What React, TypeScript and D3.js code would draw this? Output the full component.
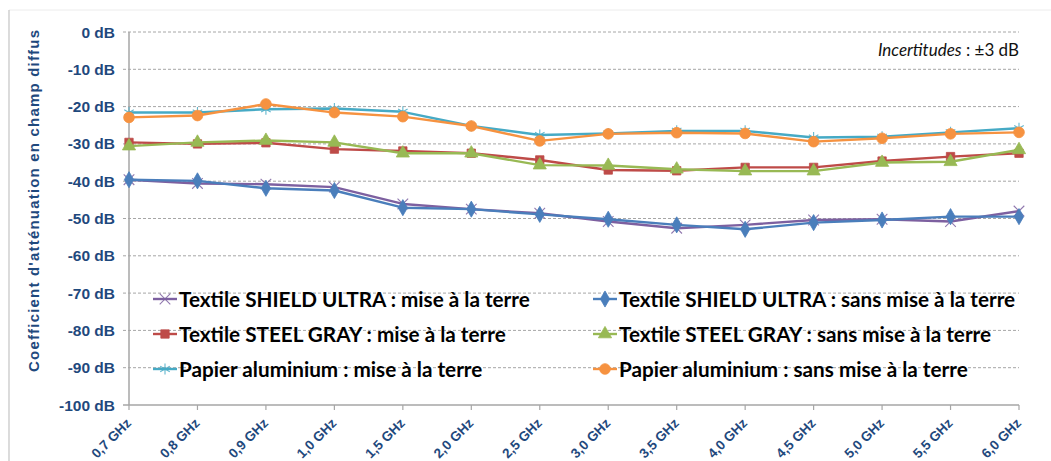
import React from "react";
import * as d3 from "d3";

const categories = ["0,7 GHz","0,8 GHz","0,9 GHz","1,0 GHz","1,5 GHz","2,0 GHz","2,5 GHz","3,0 GHz","3,5 GHz","4,0 GHz","4,5 GHz","5,0 GHz","5,5 GHz","6,0 GHz"];
const yTicks = [0,-10,-20,-30,-40,-50,-60,-70,-80,-90,-100];

const shieldMise = [-39.6,-40.6,-40.8,-41.6,-46.1,-47.5,-48.6,-50.8,-52.6,-51.7,-50.4,-50.2,-50.8,-48.0];
const shieldSans = [-39.6,-39.9,-41.9,-42.5,-47.1,-47.5,-48.9,-50.2,-51.7,-52.9,-51.1,-50.4,-49.5,-49.5];
const steelMise = [-29.6,-30.0,-29.7,-31.4,-31.9,-32.5,-34.3,-37.0,-37.2,-36.3,-36.3,-34.6,-33.4,-32.5];
const steelSans = [-30.6,-29.6,-29.1,-29.6,-32.5,-32.5,-35.7,-35.8,-36.8,-37.3,-37.3,-35.0,-34.8,-31.6];
const papierMise = [-21.6,-21.6,-20.7,-20.5,-21.4,-25.2,-27.6,-27.2,-26.5,-26.5,-28.3,-28.1,-26.9,-25.8];
const papierSans = [-22.9,-22.4,-19.3,-21.6,-22.7,-25.2,-29.2,-27.3,-27.0,-27.2,-29.4,-28.5,-27.3,-26.9];

const seriesNames = [
  "Textile SHIELD ULTRA : mise à la terre",
  "Textile SHIELD ULTRA : sans mise à la terre",
  "Textile STEEL GRAY : mise à la terre",
  "Textile STEEL GRAY : sans mise à la terre",
  "Papier aluminium : mise à la terre",
  "Papier aluminium : sans mise à la terre",
];
const seriesValues = [shieldMise, shieldSans, steelMise, steelSans, papierMise, papierSans];
const seriesColors = ["#7D60A0", "#4A7EBB", "#BE4B48", "#98B954", "#46AAC5", "#F69240"];
const seriesSymbols = [d3.symbolTimes, d3.symbolDiamond, d3.symbolSquare, d3.symbolTriangle, d3.symbolAsterisk, d3.symbolCircle];
const symbolSizes = [75, 75, 70, 75, 85, 90];
const strokeSymbols = [true, false, false, false, true, false];

const W = 1051, H = 461;
const M = { left: 129, right: 1019, top: 32, bottom: 405 };
const AXIS_BLUE = "#1F497D";

export default function App() {
  const x = d3.scalePoint<string>().domain(categories).range([M.left, M.right]);
  const y = d3.scaleLinear().domain([-100, 0]).range([M.bottom, M.top]);
  const line = d3.line<number>().x((_, i) => x(categories[i]) as number).y((d) => y(d));

  const legendCols = [153, 593];
  const legendRows = [299, 334, 369];

  const marker = (k: number, cx: number, cy: number, key: string) => {
    const p = d3.symbol().type(seriesSymbols[k]).size(symbolSizes[k])() as string;
    return strokeSymbols[k] ? (
      <path key={key} d={p} transform={`translate(${cx},${cy})`} fill="none" stroke={seriesColors[k]} strokeWidth={1.1} opacity={0.85} />
    ) : (
      <path key={key} d={p} transform={`translate(${cx},${cy})`} fill={seriesColors[k]} stroke={seriesColors[k]} strokeWidth={0.8} />
    );
  };

  return (
    <svg width={W} height={H} style={{ position: "absolute", left: 0, top: 0, background: "#fff" }}>
      <rect x={0} y={0} width={W} height={H} fill="#fff" />
      <line x1={9} x2={W} y1={10} y2={10} stroke="#ECECEC" strokeWidth={1} />
      <line x1={9} x2={9} y1={10} y2={H} stroke="#C4C4C4" strokeWidth={1.2} />

      {/* gridlines */}
      {yTicks.filter((t) => t > -100).map((t) => (
        <line key={t} x1={M.left - 6} x2={M.right} y1={y(t)} y2={y(t)} stroke="#A6A6A6" strokeWidth={1} strokeDasharray="3,2" />
      ))}
      {/* axes */}
      <line x1={M.left - 6} x2={M.right} y1={y(-100)} y2={y(-100)} stroke="#A6A6A6" strokeWidth={1.5} />
      <line x1={M.left} x2={M.left} y1={M.top} y2={M.bottom} stroke="#A6A6A6" strokeWidth={1.5} />
      {categories.map((c) => (
        <line key={c} x1={x(c)} x2={x(c)} y1={M.bottom} y2={M.bottom + 5} stroke="#A6A6A6" strokeWidth={1.2} />
      ))}

      {/* y tick labels */}
      {yTicks.map((t) => (
        <text key={t} x={115} y={y(t)} dy="0.36em" textAnchor="end" fontFamily="Liberation Sans, Arial, sans-serif" fontWeight="bold" fontSize={15.5} fill={AXIS_BLUE}>
          {`${t} dB`}
        </text>
      ))}
      {/* x tick labels */}
      {categories.map((c) => (
        <text key={c} transform={`translate(${(x(c) as number) + 3},${M.bottom + 19}) rotate(-45)`} textAnchor="end" fontFamily="Liberation Sans, Arial, sans-serif" fontWeight="bold" fontSize={13.5} fill={AXIS_BLUE}>
          {c}
        </text>
      ))}
      {/* y title */}
      <text transform={`translate(39,201) rotate(-90)`} textAnchor="middle" fontFamily="Liberation Sans, Arial, sans-serif" fontWeight="bold" fontSize={15} fill={AXIS_BLUE} textLength={342} lengthAdjust="spacing">
        Coefficient d'atténuation en champ diffus
      </text>

      {/* uncertainty note */}
      <text x={M.right} y={56} textAnchor="end" fontFamily="Lato, sans-serif" fontSize={17} fill="#111">
        <tspan fontStyle="italic">Incertitudes</tspan>
        <tspan> : ±3 dB</tspan>
      </text>

      {/* series */}
      {seriesValues.map((vals, k) => (
        <g key={k}>
          <path d={line(vals) as string} fill="none" stroke={seriesColors[k]} strokeWidth={2.4} strokeLinejoin="round" />
          {vals.map((v, i) => marker(k, x(categories[i]) as number, y(v), `${k}-${i}`))}
        </g>
      ))}

      {/* legend */}
      {seriesNames.map((n, k) => {
        const lx = legendCols[k % 2];
        const ly = legendRows[Math.floor(k / 2)];
        return (
          <g key={n}>
            <line x1={lx} x2={lx + 24} y1={ly} y2={ly} stroke={seriesColors[k]} strokeWidth={2.4} />
            {marker(k, lx + 12, ly, `lg-${k}`)}
            <text x={lx + 26} y={ly + 7.5} fontFamily="Lato, sans-serif" fontWeight="bold" fontSize={20.7} fill="#000">
              {n}
            </text>
          </g>
        );
      })}
    </svg>
  );
}
